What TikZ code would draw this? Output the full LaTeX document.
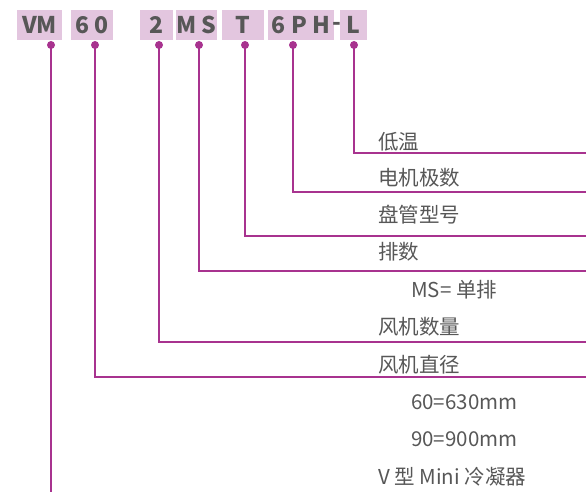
\documentclass[tikz,border=0pt]{standalone}
\usepackage{fontspec}
\setmainfont{Noto Sans CJK SC}
\definecolor{leadpink}{HTML}{A8338F}
\definecolor{boxpink}{HTML}{E3C6DF}
\definecolor{txtgray}{HTML}{575757}
\tikzset{
  codebox/.style={fill=boxpink, text=txtgray, inner sep=0pt, minimum height=30pt,
    font=\fontsize{23}{23}\selectfont\bfseries},
  lbl/.style={anchor=west, text=txtgray, inner sep=0pt, font=\fontsize{20.5}{20.5}\selectfont},
  lead/.style={leadpink, line width=2pt}
}
\begin{document}
\begin{tikzpicture}[x=1pt,y=-1pt]
  \useasboundingbox (0,0) rectangle (586,492);
  % Ô mã sản phẩm
  \node[codebox, minimum width=45pt] (bVM) at (39.5,25) {VM};
  \node[codebox, minimum width=42pt] (bD)  at (92,25)   {6 0};
  \node[codebox, minimum width=33pt] (bN)  at (156.5,25) {2};
  \node[codebox, minimum width=41pt] (bMS) at (196.5,25) {M S};
  \node[codebox, minimum width=42pt] (bT)  at (243,25)  {T};
  \node[codebox, minimum width=66pt] (bPH) at (301,25)  {6 P H};
  \node[text=txtgray, inner sep=0pt, font=\fontsize{23}{23}\selectfont\bfseries] (dash) at (337,26) {-};
  \node[codebox, minimum width=27pt] (bL)  at (353.5,25) {L};
  % Đường dẫn và chấm tròn
  \foreach \n/\x/\y in {L/354/153, PH/293/192, T/245/236, MS/199/271, N/159/342, D/95/377}{
    \coordinate (d\n) at (\x,45);
    \coordinate (e\n) at (586,\y);
    \draw[lead] (d\n) |- (e\n);
    \fill[leadpink] (d\n) circle (4pt);
  }
  \coordinate (dVM) at (51,45);
  \coordinate (eVM) at (51,492);
  \draw[lead] (dVM) -- (eVM);
  \fill[leadpink] (dVM) circle (4pt);
  % Ghi chú
  \foreach \x/\y/\t [count=\i] in {378/142/低温, 378/178/电机极数, 378/215/盘管型号, 378/252/排数,
      411/290/MS= 单排, 378/327/风机数量, 378/365/风机直径, 411/402/60=630mm,
      411/439/90=900mm, 378/477/V 型 Mini 冷凝器}{
    \node[lbl] (l\i) at (\x,\y) {\t};
  }
\end{tikzpicture}
\end{document}
